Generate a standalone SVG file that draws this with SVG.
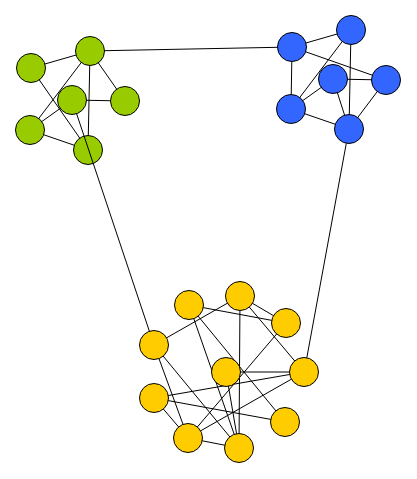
<svg xmlns="http://www.w3.org/2000/svg" width="417" height="479" viewBox="0 0 417 479">
<style>
  .e line { stroke: #000; stroke-width: 1; fill: none; }
  .n circle { stroke: #000; stroke-width: 1; }
  .g circle { fill: #99cc00; }
  .b circle { fill: #3366ff; }
  .y circle { fill: #ffcc00; }
</style>
<rect width="417" height="479" fill="#fff"/>
<g id="connectors" class="e">
  <!-- green cluster -->
  <line x1="90" y1="51" x2="31" y2="68"/>
  <line x1="90" y1="51" x2="125" y2="101"/>
  <line x1="90" y1="51" x2="30" y2="130"/>
  <line x1="90" y1="51" x2="88" y2="150"/>
  <line x1="31" y1="68" x2="88" y2="150"/>
  <line x1="72" y1="100" x2="125" y2="101"/>
  <line x1="72" y1="100" x2="30" y2="130"/>
  <line x1="30" y1="130" x2="88" y2="150"/>
  <!-- blue cluster -->
  <line x1="292" y1="47" x2="351" y2="30"/>
  <line x1="292" y1="47" x2="291" y2="109"/>
  <line x1="292" y1="47" x2="386" y2="80"/>
  <line x1="351" y1="30" x2="291" y2="109"/>
  <line x1="351" y1="30" x2="349" y2="129"/>
  <line x1="333" y1="79" x2="386" y2="80"/>
  <line x1="333" y1="79" x2="291" y2="109"/>
  <line x1="333" y1="79" x2="349" y2="129"/>
  <line x1="386" y1="80" x2="349" y2="129"/>
  <line x1="291" y1="109" x2="349" y2="129"/>
  <!-- yellow cluster -->
  <line x1="189" y1="305" x2="286" y2="323"/>
  <line x1="189" y1="305" x2="285" y2="422"/>
  <line x1="189" y1="305" x2="239" y2="448"/>
  <line x1="240" y1="296" x2="286" y2="323"/>
  <line x1="240" y1="296" x2="154" y2="345"/>
  <line x1="240" y1="296" x2="304" y2="372"/>
  <line x1="240" y1="296" x2="239" y2="448"/>
  <line x1="286" y1="323" x2="188" y2="438"/>
  <line x1="154" y1="345" x2="188" y2="438"/>
  <line x1="154" y1="345" x2="239" y2="448"/>
  <line x1="226" y1="372" x2="304" y2="372"/>
  <line x1="226" y1="372" x2="239" y2="448"/>
  <line x1="304" y1="372" x2="154" y2="398"/>
  <line x1="304" y1="372" x2="188" y2="438"/>
  <line x1="154" y1="398" x2="285" y2="422"/>
  <line x1="154" y1="398" x2="188" y2="438"/>
  <line x1="188" y1="438" x2="239" y2="448"/>
</g>
<g id="green-nodes" class="n g">
  <g id="g1"><circle cx="90" cy="51" r="14.5"/></g>
  <g id="g2"><circle cx="31" cy="68" r="14.5"/></g>
  <g id="g3"><circle cx="72" cy="100" r="14.5"/></g>
  <g id="g4"><circle cx="125" cy="101" r="14.5"/></g>
  <g id="g5"><circle cx="30" cy="130" r="14.5"/></g>
  <g id="g6"><circle cx="88" cy="150" r="14.5"/></g>
</g>
<g id="blue-nodes" class="n b">
  <g id="b1"><circle cx="292" cy="47" r="14.5"/></g>
  <g id="b2"><circle cx="351" cy="30" r="14.5"/></g>
  <g id="b3"><circle cx="333" cy="79" r="14.5"/></g>
  <g id="b4"><circle cx="386" cy="80" r="14.5"/></g>
  <g id="b5"><circle cx="291" cy="109" r="14.5"/></g>
  <g id="b6"><circle cx="349" cy="129" r="14.5"/></g>
</g>
<g id="yellow-nodes" class="n y">
  <g id="y1"><circle cx="189" cy="305" r="14.5"/></g>
  <g id="y2"><circle cx="240" cy="296" r="14.5"/></g>
  <g id="y3"><circle cx="286" cy="323" r="14.5"/></g>
  <g id="y4"><circle cx="154" cy="345" r="14.5"/></g>
  <g id="y5"><circle cx="226" cy="372" r="14.5"/></g>
  <g id="y6"><circle cx="304" cy="372" r="14.5"/></g>
  <g id="y7"><circle cx="154" cy="398" r="14.5"/></g>
  <g id="y8"><circle cx="285" cy="422" r="14.5"/></g>
  <g id="y9"><circle cx="188" cy="438" r="14.5"/></g>
  <g id="y10"><circle cx="239" cy="448" r="14.5"/></g>
</g>
<g id="bridges" class="e">
  <line x1="104.5" y1="50.7" x2="277.5" y2="47.3"/>
  <line x1="76.6" y1="113.7" x2="149.4" y2="331.3"/>
  <line x1="346.3" y1="143.3" x2="306.8" y2="357.8"/>
</g>
</svg>
